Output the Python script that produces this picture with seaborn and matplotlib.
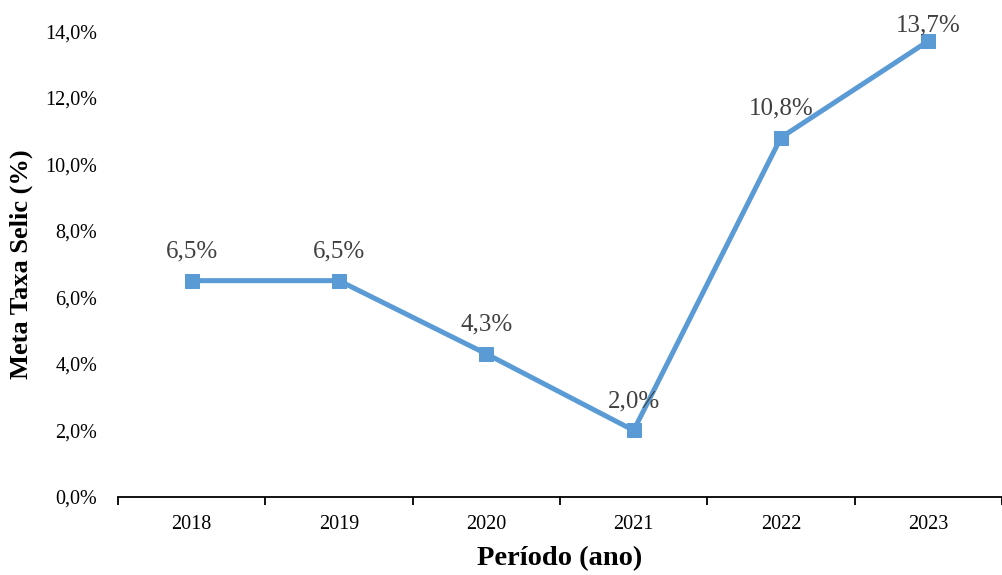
import numpy as np
import pandas as pd
import matplotlib
matplotlib.use("Agg")
import matplotlib.pyplot as plt
from matplotlib.ticker import FixedLocator, FuncFormatter
import seaborn as sns

# Meta da taxa Selic por ano
anos = ["2018", "2019", "2020", "2021", "2022", "2023"]
selic = [6.5, 6.5, 4.3, 2.0, 10.8, 13.7]
rotulos = ["6,5%", "6,5%", "4,3%", "2,0%", "10,8%", "13,7%"]

sns.set_theme(style="white")
plt.rcParams["font.family"] = ["Liberation Serif", "DejaVu Serif"]

df = pd.DataFrame({"ano": anos, "selic": selic})

fig = plt.figure(figsize=(10.03, 5.75), dpi=100)
ax = fig.add_axes([0.1176, 0.1357, 0.8814, 0.8103])

cor = "#5B9BD5"
sns.lineplot(data=df, x="ano", y="selic", ax=ax, color=cor, linewidth=3.6,
             marker="s", markersize=10, markeredgecolor=cor, markerfacecolor=cor)

# Rótulos de dados acima de cada ponto
for i, (v, txt) in enumerate(zip(selic, rotulos)):
    dy = 16.5 if v < 13 else 7
    ax.annotate(txt, (i, v), xytext=(0, dy), textcoords="offset points",
                ha="center", va="baseline", fontsize=18, color="#404040",
                annotation_clip=False)

ax.set_ylim(0, 14)
ax.set_xlim(-0.5, len(anos) - 0.5)
ax.set_yticks(np.arange(0, 14.1, 2))
ax.yaxis.set_major_formatter(FuncFormatter(lambda v, p: f"{v:.1f}".replace(".", ",") + "%"))
ax.tick_params(axis="y", length=0, labelsize=14.5, pad=15, labelcolor="black")

ax.set_xticks(range(len(anos)))
ax.set_xticklabels(anos)
ax.xaxis.set_minor_locator(FixedLocator(np.arange(-0.5, len(anos), 1.0)))
ax.tick_params(axis="x", which="major", length=0, labelsize=14.5, pad=13, labelcolor="black")
ax.tick_params(axis="x", which="minor", bottom=True, length=6, width=1.3, direction="out", color="black")

for s in ["top", "right", "left"]:
    ax.spines[s].set_visible(False)
ax.spines["bottom"].set_color("black")
ax.spines["bottom"].set_linewidth(1.3)

ax.set_xlabel("Período (ano)", fontsize=20.5, fontweight="bold", labelpad=9, color="black")
ax.set_ylabel("Meta Taxa Selic (%)", fontsize=19, fontweight="bold", labelpad=9, color="black")
ax.grid(False)

fig.savefig("out.png", dpi=100)
